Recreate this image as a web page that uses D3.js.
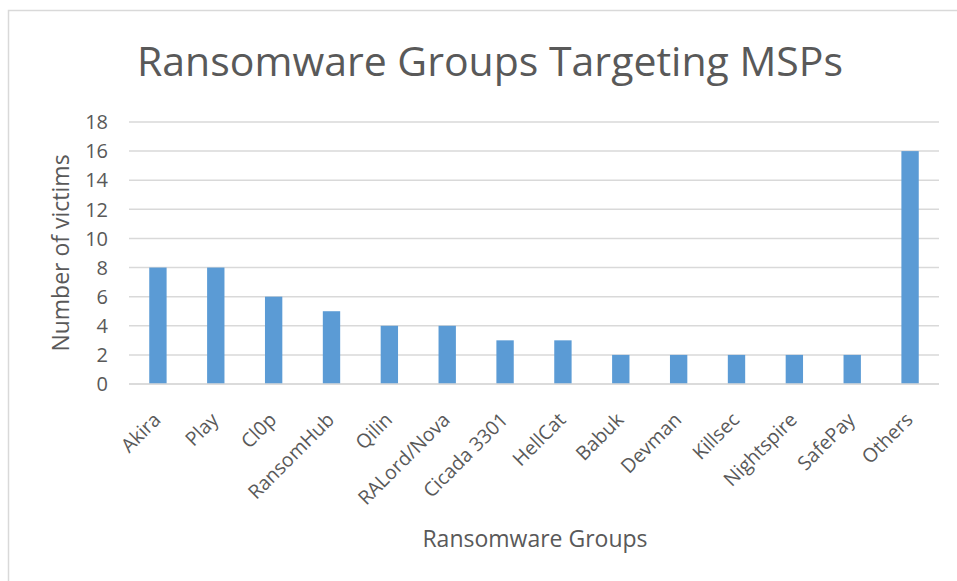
<!DOCTYPE html>
<html>
<head>
<meta charset="utf-8">
<script src="https://cdn.jsdelivr.net/npm/d3@7"></script>
<style>
  body { margin: 0; background: #fff; }
  text { font-family: "Open Sans", "Liberation Sans", sans-serif; fill: #595959; }
</style>
</head>
<body>
<svg id="chart" width="957" height="581"></svg>
<script>
// data
var groups = ['Akira', 'Play', 'Cl0p', 'RansomHub', 'Qilin', 'RALord/Nova', 'Cicada 3301',
              'HellCat', 'Babuk', 'Devman', 'Killsec', 'Nightspire', 'SafePay', 'Others'];
var victims = [8, 8, 6, 5, 4, 4, 3, 3, 2, 2, 2, 2, 2, 16];
var yTicks = [0, 2, 4, 6, 8, 10, 12, 14, 16, 18];

(function () {
    var
    svg = d3.select('#chart'),
    plotLeft = 129, plotRight = 939, plotTop = 122, plotBottom = 384,
    barColor = '#5B9BD5',
    gridColor = '#D9D9D9';

    // outer chart border (runs off the right and bottom edges)
    svg.append('rect')
        .attr('x', 8.5).attr('y', 10.5)
        .attr('width', 960).attr('height', 600)
        .attr('fill', 'none').attr('stroke', gridColor).attr('stroke-width', 1.5);

    var x = d3.scaleBand().domain(groups).range([plotLeft, plotRight]).paddingInner(0.7).paddingOuter(0.35);
    var y = d3.scaleLinear().domain([0, 18]).range([plotBottom, plotTop]);

    // gridlines
    svg.append('g').selectAll('line').data(yTicks).enter().append('line')
        .attr('x1', plotLeft).attr('x2', plotRight)
        .attr('y1', function (d) { return y(d); })
        .attr('y2', function (d) { return y(d); })
        .attr('stroke', gridColor).attr('stroke-width', 1.5);

    // y tick labels
    svg.append('g').selectAll('text').data(yTicks).enter().append('text')
        .attr('x', plotLeft - 21).attr('y', function (d) { return y(d); })
        .attr('dy', '0.36em').attr('text-anchor', 'end')
        .style('font-size', '20px')
        .text(function (d) { return d; });

    // bars
    svg.append('g').selectAll('rect').data(victims).enter().append('rect')
        .attr('x', function (d, i) { return x(groups[i]); })
        .attr('y', function (d) { return y(d); })
        .attr('width', x.bandwidth())
        .attr('height', function (d) { return plotBottom - y(d); })
        .attr('fill', barColor);

    // x axis line
    svg.append('line')
        .attr('x1', plotLeft).attr('x2', plotRight).attr('y1', plotBottom).attr('y2', plotBottom)
        .attr('stroke', gridColor).attr('stroke-width', 1.5);

    // category labels, rotated -45
    svg.append('g').selectAll('text').data(groups).enter().append('text')
        .attr('transform', function (d) {
            var cx = x(d) + x.bandwidth() / 2 + 4;
            return 'translate(' + cx + ',' + (plotBottom + 37) + ') rotate(-45)';
        })
        .attr('text-anchor', 'end')
        .style('font-size', '19.5px')
        .text(function (d) { return d; });

    // title
    svg.append('text')
        .attr('x', 490).attr('y', 76)
        .attr('text-anchor', 'middle')
        .style('font-size', '41px')
        .text('Ransomware Groups Targeting MSPs');

    // axis titles
    svg.append('text')
        .attr('x', 535).attr('y', 547)
        .attr('text-anchor', 'middle')
        .style('font-size', '23px')
        .text('Ransomware Groups');

    svg.append('text')
        .attr('transform', 'translate(69,253) rotate(-90)')
        .attr('text-anchor', 'middle')
        .style('font-size', '23px')
        .text('Number of victims');
})();
</script>
</body>
</html>
